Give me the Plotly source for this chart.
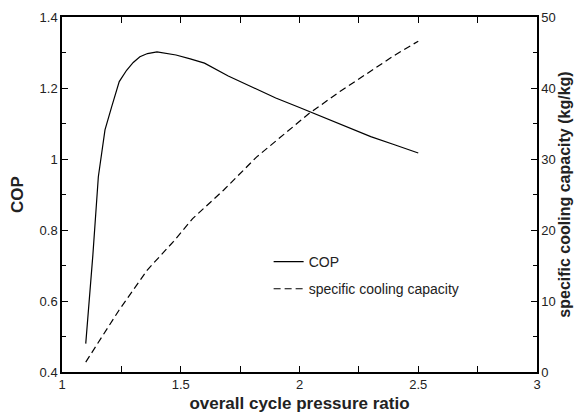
import plotly.graph_objects as go

pressure_ratio_cop = [1.10, 1.13, 1.153, 1.181, 1.209, 1.241, 1.272, 1.30, 1.328, 1.36, 1.40,
                      1.48, 1.54, 1.60, 1.70, 1.80, 1.90, 2.00, 2.10, 2.20, 2.30, 2.40, 2.50]
cop = [0.48, 0.73, 0.95, 1.082, 1.147, 1.218, 1.25, 1.272, 1.288, 1.297, 1.302,
       1.293, 1.282, 1.27, 1.234, 1.202, 1.172, 1.145, 1.118, 1.091, 1.063, 1.04, 1.017]

pressure_ratio_scc = [1.10, 1.16, 1.24, 1.36, 1.47, 1.55, 1.68, 1.82, 1.96, 2.04, 2.17,
                      2.30, 2.40, 2.50]
scc = [1.4, 4.5, 8.7, 14.4, 18.4, 21.6, 25.6, 30.3, 34.1, 36.4, 39.5, 42.4, 44.6, 46.6]

font_family = "Liberation Sans, Arial, sans-serif"
txt = "#222"

fig = go.Figure()
fig.add_trace(go.Scatter(x=pressure_ratio_cop, y=cop, mode="lines", name="COP",
                         legendgroup="a", line=dict(color="black", width=1.2)))
fig.add_trace(go.Scatter(x=pressure_ratio_scc, y=scc, mode="lines", name="specific cooling capacity",
                         legendgroup="b", yaxis="y2",
                         line=dict(color="black", width=1.2, dash="7px,4px")))

# the page body has an 8px margin, so the figure is 8px smaller than the window
fig.update_layout(
    width=575, height=412,
    margin=dict(l=54, r=46, t=9, b=48),
    paper_bgcolor="white", plot_bgcolor="white",
    font=dict(family=font_family, size=13, color=txt),
    showlegend=True,
    legend=dict(x=0.435, y=0.355, xanchor="left", yanchor="top", bgcolor="rgba(0,0,0,0)",
                font=dict(size=14, color=txt), itemwidth=30, traceorder="grouped",
                tracegroupgap=6),
    xaxis=dict(range=[1, 3], dtick=0.5, tick0=1, showgrid=False, zeroline=False,
               automargin=False,
               showline=True, linecolor="black", linewidth=1.5, mirror="allticks",
               ticks="inside", ticklen=6, tickcolor="black",
               minor=dict(ticks="inside", ticklen=4, dtick=0.25, tickcolor="black", showgrid=False),
               title=dict(text="<b>overall cycle pressure ratio</b>", font=dict(size=17, color=txt),
                          standoff=6)),
    yaxis=dict(range=[0.4, 1.4], dtick=0.2, tick0=0.4, showgrid=False, zeroline=False,
               automargin=False,
               showline=True, linecolor="black", linewidth=1.5,
               ticks="inside", ticklen=6, tickcolor="black",
               tickformat="~g",
               minor=dict(ticks="inside", ticklen=4, dtick=0.1, tickcolor="black", showgrid=False),
               title=dict(text="<b>COP</b>", font=dict(size=17, color=txt), standoff=12)),
    yaxis2=dict(range=[0, 50], dtick=10, tick0=0, overlaying="y", side="right",
                automargin=False,
                showgrid=False, zeroline=False, showline=True, linecolor="black", linewidth=1.5,
                ticks="inside", ticklen=6, tickcolor="black",
                minor=dict(ticks="inside", ticklen=4, dtick=5, tickcolor="black", showgrid=False),
                title=dict(text="<b>specific cooling capacity (kg/kg)</b>",
                           font=dict(size=16, color=txt), standoff=2)),
)

fig.write_html("out.html")
